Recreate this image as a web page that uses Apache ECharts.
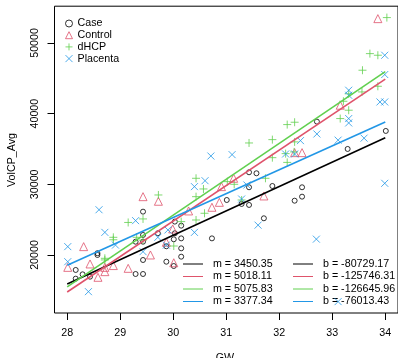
<!DOCTYPE html>
<html><head><meta charset="utf-8">
<script src="https://cdn.jsdelivr.net/npm/echarts@6/dist/echarts.min.js"></script>
<style>html,body{margin:0;padding:0;background:#fff}#c{width:398px;height:358px}</style>
</head><body><div id="c"></div>
<script>
const groupNames = ['Case', 'Control', 'dHCP', 'Placenta'];
const groupColors = ['#000000', '#DF536B', '#61D04F', '#2297E6'];

const caseData = [
  [28.16,17880],[28.16,16650],[28.29,17260],[28.43,16930],[28.57,20000],[28.57,20250],
  [29.29,17310],[29.43,17310],[29.29,21880],[29.43,21880],[29.43,22830],[29.43,26130],
  [29.43,19290],[29.71,23070],[29.87,21230],[29.87,19050],[30.01,18440],[30.01,22220],
  [30.03,23070],[30.03,24720],[30.15,24150],[30.15,22350],[30.15,20940],[30.15,19760],
  [30.73,22350],[31.01,27780],[31.29,27220],[31.43,27080],[31.43,29580],[31.43,31700],
  [31.57,31560],[31.71,25190],[31.87,29760],[32.29,27680],[32.43,28250],[32.43,29580],
  [32.71,38870],[33.29,35000],[34.01,37550]
];
const controlData = [
  [28.01,18250],[28.31,21180],[28.43,18730],[28.58,16840],[28.71,17640],[28.71,18250],
  [28.87,18500],[29.15,18110],[29.43,28250],[29.57,20000],[29.72,27600],[29.87,21800],
  [29.99,23680],[30.01,18900],[30.29,26230],[30.73,26750],[30.87,27450],[30.91,29670],
  [31.14,30850],[31.71,28350],[32.29,34480],[32.43,34480],[33.15,41190],[33.86,53440]
];
const dhcpData = [
  [28.71,19530],[28.71,19300],[28.87,22500],[28.87,22150],[29.15,24600],[29.31,22500],
  [29.43,25100],[29.43,22100],[29.72,28490],[30.01,21270],[30.15,24720],[30.43,24950],
  [30.43,28250],[30.43,30850],[30.57,29340],[30.59,25900],[31.02,30380],[31.15,30000],
  [31.29,27780],[31.74,30850],[31.87,33770],[31.43,35850],[31.87,36320],[32.15,38450],
  [32.29,38780],[32.29,36000],[32.12,34340],[32.28,34580],[32.15,33100],[33.15,39300],
  [33.21,41750],[33.31,40480],[33.56,43070],[33.31,42800],[33.57,46140],[33.71,48490],
  [33.86,48260],[33.86,43870],[34.03,53590]
];
const placentaData = [
  [28.01,21180],[28.01,19050],[28.40,14810],[28.60,26400],[28.71,23200],[28.91,21400],
  [29.29,24860],[29.43,20470],[29.71,22500],[29.90,23540],[29.87,21400],[30.40,29670],
  [30.40,23200],[30.60,30510],[30.71,34000],[31.11,34200],[31.29,27920],[31.39,29900],
  [31.60,24220],[32.12,34290],[32.29,34290],[32.40,36180],[32.70,22240],[32.71,37120],
  [33.11,36250],[33.11,13400],[33.31,43310],[33.31,42600],[33.31,39300],[33.31,38680],
  [33.60,36530],[33.90,41650],[33.99,41650],[33.99,45530],[33.99,48260],[33.99,30140]
];

// regression line endpoints (x = 28 and x = 34), from the printed m and b
const slopes = [3450.35, 5018.11, 5075.83, 3377.34];
const intercepts = [-80729.17, -125746.31, -126645.96, -76013.43];
const caseLine = [[28,15881],[34,36583]];
const controlLine = [[28,14761],[34,44870]];
const dhcpLine = [[28,15477],[34,45932]];
const placentaLine = [[28,18553],[34,38816]];

const xTicks = [28,29,30,31,32,33,34];
const yTicks = [20000,30000,40000,50000];

const FONT = 'Liberation Sans, Arial, sans-serif';
const FS = 10.7;
const chart = echarts.init(document.getElementById('c'), null, {renderer:'canvas'});

const symbols = ['circle', 'triangle', 'path://M0,5L10,5M5,0L5,10', 'path://M0,0L10,10M10,0L0,10'];
const sizes = [5, 8, 8, 7];
const datasets = [caseData, controlData, dhcpData, placentaData];
const lines = [caseLine, controlLine, dhcpLine, placentaLine];

const series = [];
datasets.forEach((d, i) => {
  series.push({
    name: groupNames[i], type: 'scatter', data: d,
    symbol: symbols[i], symbolSize: sizes[i], symbolKeepAspect: true,
    itemStyle: {color: 'rgba(0,0,0,0)', borderColor: groupColors[i], borderWidth: 1},
    emphasis: {disabled: true}, silent: true
  });
});
lines.forEach((d, i) => {
  series.push({
    name: 'line' + i, type: 'line', data: d, symbol: 'none',
    lineStyle: {color: groupColors[i], width: 1.6}, silent: true, z: 3
  });
});

const legendData = groupNames.map((n, i) => ({
  name: n, icon: symbols[i],
  itemStyle: {color: 'rgba(0,0,0,0)', borderColor: groupColors[i], borderWidth: 1}
}));

const legendGraphics = [];
const rowY = [264, 276.5, 289, 301.5];
for (let i = 0; i < 4; i++) {
  legendGraphics.push({type:'line', shape:{x1:183, y1:rowY[i], x2:203, y2:rowY[i]}, style:{stroke:groupColors[i], lineWidth:1}});
  legendGraphics.push({type:'text', x:213, y:rowY[i], style:{text:'m = ' + slopes[i].toFixed(2), font:FS + 'px ' + FONT, fill:'#000', textVerticalAlign:'middle'}});
  legendGraphics.push({type:'line', shape:{x1:293, y1:rowY[i], x2:313, y2:rowY[i]}, style:{stroke:groupColors[i], lineWidth:1}});
  legendGraphics.push({type:'text', x:323, y:rowY[i], style:{text:'b = ' + intercepts[i].toFixed(2), font:FS + 'px ' + FONT, fill:'#000', textVerticalAlign:'middle'}});
}
legendGraphics.push({type:'text', x:12, y:160, rotation:Math.PI/2, style:{text:'VolCP_Avg', font:FS + 'px ' + FONT, fill:'#000', textAlign:'center', textVerticalAlign:'middle'}});
legendGraphics.push({type:'text', x:225, y:353, style:{text:'GW', font:FS + 'px ' + FONT, fill:'#000', textAlign:'center', textVerticalAlign:'top'}});

chart.setOption({
  animation: false,
  backgroundColor: '#fff',
  grid: {left:54.5, top:6.2, width:345.6, height:306.8, show:true, borderColor:'#000', borderWidth:1, backgroundColor:'rgba(0,0,0,0)'},
  xAxis: {
    type:'value', min:27.76, max:34.24,
    splitLine:{show:false}, axisLine:{show:false},
    axisTick:{show:true, customValues:xTicks, length:7, lineStyle:{color:'#000'}},
    axisLabel:{customValues:xTicks, margin:15, color:'#000', fontSize:FS, fontFamily:FONT}
  },
  yAxis: {
    type:'value', min:11790, max:55200,
    splitLine:{show:false}, axisLine:{show:false},
    axisTick:{show:true, customValues:yTicks, length:7, lineStyle:{color:'#000'}},
    axisLabel:{customValues:yTicks, rotate:90, margin:14, color:'#000', fontSize:FS, fontFamily:FONT,
      formatter: v => String(v)}
  },
  legend: {
    data: legendData, orient:'vertical', left:60, top:13, itemWidth:7, itemHeight:7, itemGap:0.7,
    textStyle:{fontSize:FS, fontFamily:FONT, color:'#000'}, selectedMode:false
  },
  graphic: legendGraphics,
  series: series
});
</script>
</body></html>
